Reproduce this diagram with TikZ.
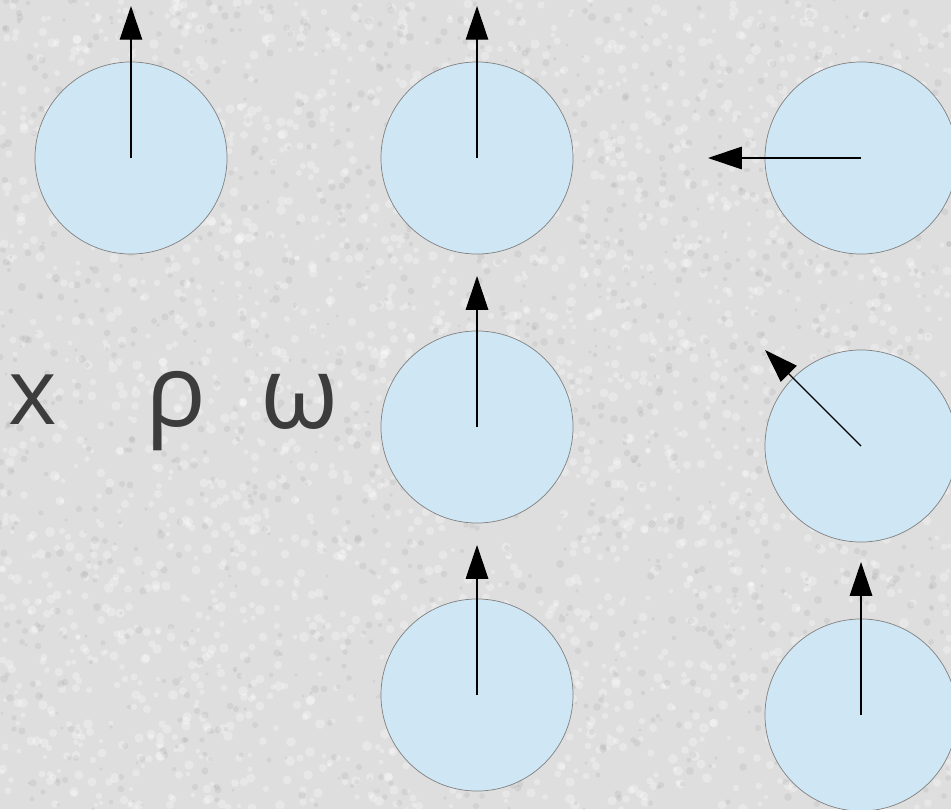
\documentclass[tikz,border=0pt]{standalone}
\usepackage{fontspec}
\newfontfamily\greekfont{Open Sans}
\usetikzlibrary{arrows.meta}
\definecolor{bggray}{RGB}{222,222,222}
\definecolor{ballblue}{RGB}{207,230,244}
\definecolor{ballrim}{RGB}{128,128,128}
\definecolor{textgray}{RGB}{60,60,60}

\begin{document}
\begin{tikzpicture}[x=0.025cm,y=-0.025cm,>={Triangle[length=24pt,width=16pt]},
    ball/.style={circle,draw=ballrim,fill=ballblue,line width=0.5pt,minimum size=4.8cm,inner sep=0pt},
    spin/.style={->,black,line width=0.9pt},
    sym/.style={anchor=base,text=textgray,font=\greekfont\fontsize{66}{79}\selectfont,inner sep=0pt},
    bigsym/.style={sym,font=\greekfont\fontsize{72}{86}\selectfont}]
    \useasboundingbox (0,0) rectangle (951,809);
    \clip (0,0) rectangle (951,809);
    \fill[bggray] (0,0) rectangle (951,809);

    % Grainy paper
    \pgfmathsetseed{17}
    \foreach \i in {1,...,2600}
        \fill[white,opacity=0.3] ({random(0,951)},{random(0,809)}) circle ({2+3*rnd});
    \foreach \i in {1,...,1400}
        \fill[gray,opacity=0.12] ({random(0,951)},{random(0,809)}) circle ({1.5+2.5*rnd});

    % Balls
    \foreach \name/\x/\y in {b1/131/158,b2/477/158,b3/861/158,b4/477/427,b5/861/446,b6/477/695,b7/861/715}
        \node[ball] (\name) at (\x,\y) {};

    % Arrow tips
    \coordinate (t1) at (131,6);
    \coordinate (t2) at (477,6);
    \coordinate (t3) at (708,158);
    \coordinate (t4) at (477,276);
    \coordinate (t5) at (765,350);
    \coordinate (t6) at (477,545);
    \coordinate (t7) at (861,562);

    % Spins
    \foreach \b/\t in {b1/t1,b2/t2,b3/t3,b4/t4,b5/t5,b6/t6,b7/t7}
        \draw[spin] (\b.center) -- (\t);

    % Symbols
    \node[sym] (sx) at (33,424) {x};
    \node[bigsym] (srho) at (176,426) {ρ};
    \node[bigsym] (somega) at (300,428) {ω};
\end{tikzpicture}
\end{document}
